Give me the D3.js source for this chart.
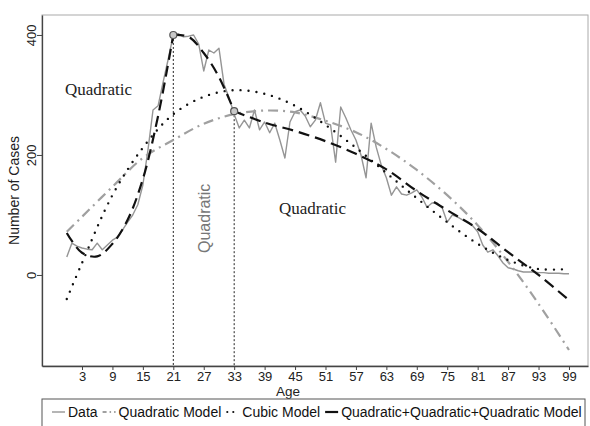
<!DOCTYPE html>
<html>
<head>
<meta charset="utf-8">
<script src="https://cdn.jsdelivr.net/npm/d3@7"></script>
<style>
  body { margin: 0; background: #fff; }
  svg { display: block; font-family: "Liberation Sans", Arial, sans-serif; }
</style>
</head>
<body>
<div id="chart"></div>
<script>
// ages for the observed data (one value per year)
var ages = d3.range(0, 100);
var cases = [30, 53, 48, 45, 43, 42, 53, 42, 50, 58,
             63, 75, 88, 100, 117, 150, 208, 275, 282, 322,
             360, 400, 402, 397, 398, 400, 385, 340, 375, 370,
             378, 318, 295, 268, 245, 258, 245, 275, 242, 255,
             237, 253, 225, 195, 255, 272, 275, 265, 247, 258,
             287, 253, 250, 188, 280, 262, 242, 225, 200, 162,
             253, 213, 183, 162, 133, 147, 135, 133, 137, 142,
             130, 113, 120, 120, 112, 88, 100, 97, 92, 88,
             82, 72, 50, 38, 42, 32, 20, 12, 10, 7,
             5, 5, 5, 4, 4, 3, 3, 3, 2, 2];

// fitted models read at a few ages
var modelAges = [0, 3, 9, 15, 21, 27, 33, 39, 45, 51, 57, 63, 69, 75, 81, 87, 93, 99];
var quadModel = [72, 97, 147, 195, 225, 252, 268, 274, 271, 257, 238, 210, 175, 133, 83, 22, -48, -125];
var cubicModel = [-40, 20, 133, 212, 268, 297, 308, 302, 282, 250, 212, 170, 128, 88, 52, 25, 10, 10];

// piecewise model: three quadratic pieces joined at 21 and 33
var pieceAges = [
  [0, 3, 6, 9, 12, 15, 18, 21],
  [21, 24, 27, 30, 33],
  [33, 39, 45, 51, 57, 63, 69, 75, 81, 87, 93, 99]
];
var pieceValues = [
  [70, 37, 31, 52, 92, 160, 265, 400],
  [400, 397, 370, 330, 273],
  [273, 254, 240, 223, 202, 176, 140, 108, 77, 38, 0, -42]
];

var breakAges = [21, 33];
var xTicks = [3, 9, 15, 21, 27, 33, 39, 45, 51, 57, 63, 69, 75, 81, 87, 93, 99];
var yTicks = [0, 200, 400];

function draw() {
    var W = 590, H = 426;
    var pl = 42, pr = 588, pt = 15, pb = 366;

    var svg = d3.select("#chart").append("svg")
        .attr("width", W)
        .attr("height", H);

    var x = d3.scaleLinear().domain([-4.885, 102.75]).range([pl, pr]);
    var y = d3.scaleLinear().domain([-151.7, 433.3]).range([pb, pt]);

    // plot region border
    svg.append("rect")
        .attr("x", pl).attr("y", pt)
        .attr("width", pr - pl).attr("height", pb - pt)
        .attr("fill", "none")
        .attr("stroke", "#aaa")
        .attr("stroke-width", 1);

    // x axis
    var xAxis = svg.append("g")
        .attr("transform", "translate(0," + pb + ")")
        .call(d3.axisBottom(x).tickValues(xTicks).tickSize(4).tickSizeOuter(0).tickPadding(2));
    xAxis.select(".domain").attr("stroke", "#444").attr("stroke-width", 1.3);
    xAxis.selectAll(".tick line").attr("stroke", "#444");
    xAxis.selectAll("text").attr("font-size", 13).attr("fill", "#222")
        .attr("font-family", "Liberation Sans, Arial, sans-serif");

    // y axis with rotated labels
    var yAxis = svg.append("g")
        .attr("transform", "translate(" + pl + ",0)")
        .call(d3.axisLeft(y).tickValues(yTicks).tickSize(5).tickSizeOuter(0));
    yAxis.select(".domain").attr("stroke", "#444").attr("stroke-width", 1.3);
    yAxis.selectAll(".tick line").attr("stroke", "#444");
    yAxis.selectAll("text")
        .attr("x", 0).attr("y", -6).attr("dy", 0)
        .attr("transform", "rotate(-90)")
        .style("text-anchor", "middle")
        .attr("font-size", 13).attr("fill", "#222")
        .attr("font-family", "Liberation Sans, Arial, sans-serif");

    // axis titles
    svg.append("text")
        .attr("transform", "translate(19," + ((pt + pb) / 2) + ") rotate(-90)")
        .attr("text-anchor", "middle")
        .attr("font-size", 14)
        .attr("fill", "#222")
        .text("Number of Cases");

    svg.append("text")
        .attr("x", 288).attr("y", 396)
        .attr("text-anchor", "middle")
        .attr("font-size", 13.5)
        .attr("fill", "#222")
        .text("Age");

    // vertical break lines
    svg.selectAll(".brk")
        .data(breakAges)
        .enter().append("line")
        .attr("class", "brk")
        .attr("x1", function (d) { return x(d); })
        .attr("x2", function (d) { return x(d); })
        .attr("y1", function (d, i) { return y(pieceValues[i + 1][0]); })
        .attr("y2", pb)
        .attr("stroke", "#222")
        .attr("stroke-width", 1)
        .attr("stroke-dasharray", "2,2");

    var line = d3.line()
        .x(function (d) { return x(d[0]); })
        .y(function (d) { return y(d[1]); });

    var smooth = d3.line()
        .curve(d3.curveCatmullRom.alpha(0.5))
        .x(function (d) { return x(d[0]); })
        .y(function (d) { return y(d[1]); });

    // data
    svg.append("path")
        .datum(d3.zip(ages, cases))
        .attr("d", line)
        .attr("fill", "none")
        .attr("stroke", "#959595")
        .attr("stroke-width", 1.4)
        .attr("stroke-linejoin", "round");

    // quadratic model
    svg.append("path")
        .datum(d3.zip(modelAges, quadModel))
        .attr("d", smooth)
        .attr("fill", "none")
        .attr("stroke", "#a0a0a0")
        .attr("stroke-width", 2.2)
        .attr("stroke-dasharray", "10,5,2,5");

    // cubic model
    svg.append("path")
        .datum(d3.zip(modelAges, cubicModel))
        .attr("d", smooth)
        .attr("fill", "none")
        .attr("stroke", "#111")
        .attr("stroke-width", 2.4)
        .attr("stroke-linecap", "round")
        .attr("stroke-dasharray", "0,8");

    // piecewise quadratic model
    svg.selectAll(".piece")
        .data(pieceAges)
        .enter().append("path")
        .attr("class", "piece")
        .attr("d", function (d, i) { return smooth(d3.zip(d, pieceValues[i])); })
        .attr("fill", "none")
        .attr("stroke", "#111")
        .attr("stroke-width", 2.2)
        .attr("stroke-dasharray", "11,6");

    // break points
    svg.selectAll(".knot")
        .data(breakAges)
        .enter().append("circle")
        .attr("class", "knot")
        .attr("cx", function (d) { return x(d); })
        .attr("cy", function (d, i) { return y(pieceValues[i + 1][0]); })
        .attr("r", 3.5)
        .attr("fill", "#c8c8c8")
        .attr("stroke", "#555")
        .attr("stroke-width", 1.2);

    // annotations
    svg.append("text")
        .attr("x", 65).attr("y", 95)
        .attr("font-family", "Liberation Serif, Times New Roman, serif")
        .attr("font-size", 17)
        .attr("fill", "#222")
        .text("Quadratic");

    svg.append("text")
        .attr("x", 279).attr("y", 214)
        .attr("font-family", "Liberation Serif, Times New Roman, serif")
        .attr("font-size", 17)
        .attr("fill", "#222")
        .text("Quadratic");

    svg.append("text")
        .attr("transform", "translate(210,253) rotate(-90)")
        .attr("font-size", 16)
        .attr("fill", "#777")
        .text("Quadratic");

    // legend
    var legendItems = [
      { label: "Data", color: "#959595", width: 1.4, dash: null, cap: "butt" },
      { label: "Quadratic Model", color: "#a0a0a0", width: 2, dash: "4,3,1.5,3", cap: "butt" },
      { label: "Cubic Model", color: "#111", width: 2.2, dash: "0,6", cap: "round" },
      { label: "Quadratic+Quadratic+Quadratic Model", color: "#111", width: 2.2, dash: null, cap: "butt" }
    ];

    svg.append("rect")
        .attr("x", 42).attr("y", 399)
        .attr("width", 543).attr("height", 40)
        .attr("fill", "#fff")
        .attr("stroke", "#555")
        .attr("stroke-width", 1);

    var lx = 52;
    legendItems.forEach(function (d) {
        svg.append("line")
            .attr("x1", lx + (d.cap === "round" ? 1 : 0)).attr("x2", lx + 13)
            .attr("y1", 412).attr("y2", 412)
            .attr("stroke", d.color)
            .attr("stroke-width", d.width)
            .attr("stroke-linecap", d.cap)
            .attr("stroke-dasharray", d.dash);
        var t = svg.append("text")
            .attr("x", lx + 16).attr("y", 417)
            .attr("font-size", 14)
            .attr("fill", "#111")
            .text(d.label);
        lx += 16 + t.node().getComputedTextLength() + 5;
    });
}

draw();
</script>
</body>
</html>
